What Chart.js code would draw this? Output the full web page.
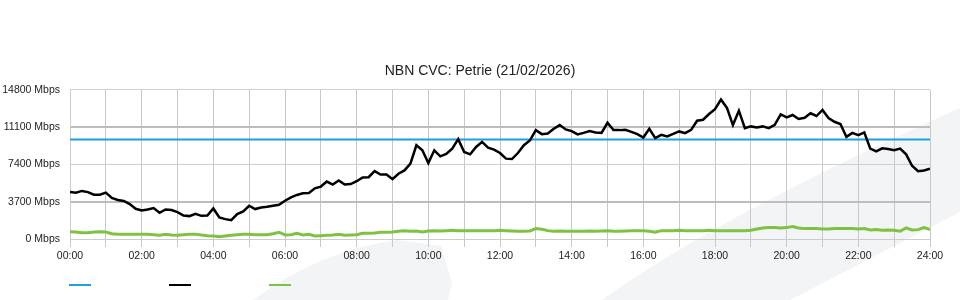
<!DOCTYPE html>
<html lang="en">
<head>
  <meta charset="UTF-8">
  <title>NBN CVC: Petrie</title>
  <script src="https://cdn.jsdelivr.net/npm/chart.js"></script>
  <style>
    body { margin: 0; background: #ffffff; }
    #wrap { width: 960px; height: 300px; position: relative; }
  </style>
</head>
<body>

<div id="wrap">
  <canvas id="myChart"></canvas>
</div>

<script>
// sample times in minutes after midnight, every 10 minutes from 00:00 to 24:00
const minutes = [];
for (let m = 0; m <= 1440; m += 10) minutes.push(m);

// x axis labels, one every two hours
const hourTicks = ['00:00', '02:00', '04:00', '06:00', '08:00', '10:00', '12:00',
                   '14:00', '16:00', '18:00', '20:00', '22:00', '24:00'];

const cvcCapacity = 9880;

// black line (Mbps)
const download = [
  4670, 4600, 4770, 4650, 4400, 4400, 4600, 4070, 3870, 3770, 3470, 3000,
  2830, 2930, 3070, 2600, 2930, 2870, 2670, 2330, 2270, 2500, 2300, 2330,
  3030, 2130, 1970, 1870, 2470, 2730, 3300, 2970, 3130, 3200, 3300, 3400,
  3800, 4130, 4370, 4530, 4570, 5030, 5200, 5700, 5400, 5800, 5400, 5450,
  5730, 6100, 6130, 6730, 6400, 6400, 5930, 6470, 6800, 7470, 9300, 8800,
  7530, 8800, 8200, 8430, 8970, 9900, 8630, 8400, 9130, 9630, 9070, 8870,
  8530, 7970, 7930, 8530, 9300, 9770, 10800, 10400, 10470, 10930, 11300, 10870,
  10700, 10370, 10530, 10700, 10570, 10530, 11530, 10800, 10800, 10830, 10630, 10400,
  10070, 10930, 10000, 10330, 10170, 10430, 10670, 10500, 10830, 11730, 11830, 12400,
  12870, 13830, 13000, 11300, 12730, 11000, 11170, 11070, 11170, 11000, 11330, 12370,
  12070, 12300, 11900, 12030, 12470, 12200, 12800, 12000, 11630, 11400, 10130, 10530,
  10300, 10570, 8970, 8700, 9000, 8930, 8800, 8970, 8400, 7270, 6730, 6800,
  6970
];

// green line (Mbps)
const upload = [
  730, 700, 630, 630, 700, 730, 700, 530, 470, 470, 470, 470,
  470, 470, 430, 370, 470, 400, 370, 430, 470, 470, 400, 330,
  300, 230, 300, 370, 430, 470, 470, 430, 430, 430, 530, 670,
  400, 430, 570, 400, 470, 300, 330, 370, 400, 470, 370, 400,
  430, 570, 570, 600, 670, 670, 700, 770, 830, 770, 800, 700,
  800, 830, 800, 830, 870, 830, 830, 830, 830, 830, 830, 830,
  870, 830, 800, 770, 770, 800, 1030, 970, 830, 770, 800, 770,
  770, 770, 770, 800, 770, 800, 830, 770, 770, 800, 830, 830,
  830, 770, 670, 830, 830, 830, 870, 830, 830, 830, 830, 870,
  830, 830, 830, 830, 830, 830, 870, 1000, 1100, 1130, 1130, 1100,
  1130, 1230, 1100, 1030, 1030, 1030, 1000, 1000, 1030, 1030, 1030, 1030,
  1000, 1030, 900, 930, 870, 900, 870, 770, 1100, 900, 930, 1130,
  930
];

const FONT = "'Liberation Sans', Arial, sans-serif";

// faint logo swoosh behind the plot
const watermark = {
  id: 'watermark',
  beforeDraw(chart) {
    const c = chart.ctx;
    c.save();
    c.fillStyle = '#f3f4f6';
    c.beginPath();
    c.moveTo(253, 300);
    c.quadraticCurveTo(320, 250, 398, 240);
    c.lineTo(441, 246);
    c.lineTo(452, 283);
    c.lineTo(448, 300);
    c.closePath();
    c.fill();
    c.beginPath();
    c.moveTo(602, 300);
    c.quadraticCurveTo(720, 215, 960, 108);
    c.lineTo(960, 212);
    c.lineTo(790, 300);
    c.closePath();
    c.fill();
    c.restore();
  }
};

// unlabeled legend swatches under the axis
const swatches = {
  id: 'swatches',
  afterDraw(chart) {
    const c = chart.ctx;
    c.save();
    chart.data.datasets.forEach((ds, i) => {
      c.fillStyle = ds.borderColor;
      c.fillRect(69 + i * 100, 284, 22, 2);
    });
    c.restore();
  }
};

const ctx = document.getElementById('myChart').getContext('2d');
new Chart(ctx, {
  type: 'line',
  data: {
    labels: minutes,
    datasets: [
      {
        label: 'CVC capacity',
        data: [{ x: minutes[0], y: cvcCapacity }, { x: minutes[minutes.length - 1], y: cvcCapacity }],
        borderColor: '#1f9fdc',
        borderWidth: 2,
        pointRadius: 0
      },
      {
        label: 'Download',
        data: download,
        borderColor: '#000000',
        borderWidth: 2.5,
        pointRadius: 0,
        order: -1
      },
      {
        label: 'Upload',
        data: upload,
        borderColor: '#7fc241',
        borderWidth: 3,
        pointRadius: 0
      }
    ]
  },
  options: {
    responsive: true,
    maintainAspectRatio: false,
    animation: false,
    layout: { padding: { left: 0, right: 0, top: 0, bottom: 34.4 } },
    elements: { line: { tension: 0 } },
    plugins: {
      legend: { display: false },
      tooltip: { enabled: false },
      title: {
        display: true,
        text: 'NBN CVC: Petrie (21/02/2026)',
        color: '#222222',
        font: { family: FONT, size: 14, weight: 'normal' },
        padding: { top: 63, bottom: 10 }
      }
    },
    scales: {
      x: {
        type: 'linear',
        min: 0,
        max: 1440,
        grid: { color: '#c8c8c8', tickLength: 8 },
        border: { color: '#cccccc' },
        ticks: {
          stepSize: 60,
          autoSkip: false,
          maxTicksLimit: 30,
          maxRotation: 0,
          padding: 3,
          color: '#222222',
          font: { family: FONT, size: 10.5 },
          callback: v => (v % 120 === 0 ? hourTicks[v / 120] : '')
        }
      },
      y: {
        min: 0,
        max: 14800,
        afterFit: s => { s.width = 70; },
        grid: {
          drawTicks: false,
          color: c => (c.index === 1 || c.index === 3 ? '#bdbdbd' : '#cfcfcf'),
          lineWidth: c => (c.index === 1 || c.index === 3 ? 2 : 1)
        },
        border: { color: '#cccccc' },
        ticks: {
          stepSize: 3700,
          padding: 10,
          color: '#222222',
          font: { family: FONT, size: 10.5 },
          callback: v => v + ' Mbps'
        }
      },
      // empty right-hand margin so the title stays centred on the page
      gap: {
        type: 'linear',
        position: 'right',
        afterFit: s => { s.width = 30; },
        grid: { display: false },
        border: { display: false },
        ticks: { display: false }
      }
    }
  },
  plugins: [watermark, swatches]
});
</script>

</body>
</html>
